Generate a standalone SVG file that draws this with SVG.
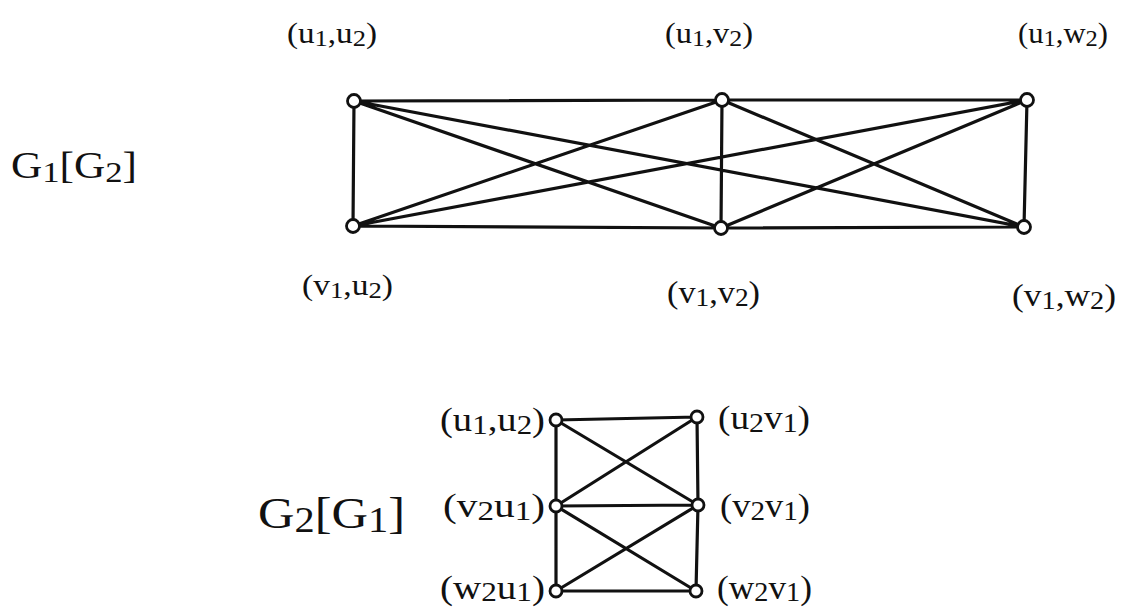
<svg xmlns="http://www.w3.org/2000/svg" width="1121" height="609" viewBox="0 0 1121 609">
<style>
.e{stroke:#111;stroke-width:3.2;fill:none;stroke-linecap:round;stroke-linejoin:round}
.n{fill:#fff;stroke:#111;stroke-width:2.8}
.t{font-family:"Liberation Serif","Times New Roman",serif;fill:#111}
.s{font-size:80%}
</style>
<rect width="1121" height="609" fill="#fff"/>
<g id="connectors">
<path class="e" d="M354,101 L722,100 L1027,100 M353,226 L721,228 L1024,227 M354,101 L353,226 M722,100 L721,228 M1027,100 L1024,227 M354,101 L721,228 M354,101 L1024,227 M353,226 L722,100 M353,226 L1027,100 M722,100 L1024,227 M721,228 L1027,100"/>
<path class="e" d="M556,420 L697,417 M556,506 L698,505 M556,591 L696,591 M556,420 L556,506 L556,591 M697,417 L698,505 L696,591 M556,420 L698,505 M697,417 L556,506 M556,506 L696,591 M698,505 L556,591"/>
</g>
<g id="n-u1u2"><circle class="n" cx="354" cy="101" r="6.5"/><text class="t" x="287" y="43" font-size="30" textLength="90" lengthAdjust="spacingAndGlyphs">(u<tspan class="s" dy="3">1</tspan><tspan dy="-3">,u</tspan><tspan class="s" dy="3">2</tspan><tspan dy="-3">)</tspan></text></g>
<g id="n-u1v2"><circle class="n" cx="722" cy="100" r="6.5"/><text class="t" x="665" y="43" font-size="30" textLength="88" lengthAdjust="spacingAndGlyphs">(u<tspan class="s" dy="3">1</tspan><tspan dy="-3">,v</tspan><tspan class="s" dy="3">2</tspan><tspan dy="-3">)</tspan></text></g>
<g id="n-u1w2"><circle class="n" cx="1027" cy="100" r="6.5"/><text class="t" x="1018" y="43" font-size="30" textLength="90" lengthAdjust="spacingAndGlyphs">(u<tspan class="s" dy="3">1</tspan><tspan dy="-3">,w</tspan><tspan class="s" dy="3">2</tspan><tspan dy="-3">)</tspan></text></g>
<g id="n-v1u2"><circle class="n" cx="353" cy="226" r="6.5"/><text class="t" x="302" y="295" font-size="30" textLength="91" lengthAdjust="spacingAndGlyphs">(v<tspan class="s" dy="3">1</tspan><tspan dy="-3">,u</tspan><tspan class="s" dy="3">2</tspan><tspan dy="-3">)</tspan></text></g>
<g id="n-v1v2"><circle class="n" cx="721" cy="228" r="6.5"/><text class="t" x="667" y="303" font-size="31" textLength="93" lengthAdjust="spacingAndGlyphs">(v<tspan class="s" dy="3">1</tspan><tspan dy="-3">,v</tspan><tspan class="s" dy="3">2</tspan><tspan dy="-3">)</tspan></text></g>
<g id="n-v1w2"><circle class="n" cx="1024" cy="227" r="6.5"/><text class="t" x="1012" y="306" font-size="31" textLength="104" lengthAdjust="spacingAndGlyphs">(v<tspan class="s" dy="3">1</tspan><tspan dy="-3">,w</tspan><tspan class="s" dy="3">2</tspan><tspan dy="-3">)</tspan></text></g>
<text class="t" x="11" y="178" font-size="38" textLength="126" lengthAdjust="spacingAndGlyphs">G<tspan class="s" dy="4">1</tspan><tspan dy="-4">[G</tspan><tspan class="s" dy="4">2</tspan><tspan dy="-4">]</tspan></text>
<g id="m-u1u2"><circle class="n" cx="556" cy="420" r="6"/><text class="t" x="440" y="431" font-size="33" textLength="105" lengthAdjust="spacingAndGlyphs">(u<tspan class="s" dy="3">1</tspan><tspan dy="-3">,u</tspan><tspan class="s" dy="3">2</tspan><tspan dy="-3">)</tspan></text></g>
<g id="m-u2v1"><circle class="n" cx="697" cy="417" r="6"/><text class="t" x="718" y="429" font-size="33" textLength="92" lengthAdjust="spacingAndGlyphs">(u<tspan class="s" dy="3">2</tspan><tspan dy="-3">v</tspan><tspan class="s" dy="3">1</tspan><tspan dy="-3">)</tspan></text></g>
<g id="m-v2u1"><circle class="n" cx="556" cy="506" r="6"/><text class="t" x="443" y="517" font-size="33" textLength="102" lengthAdjust="spacingAndGlyphs">(v<tspan class="s" dy="3">2</tspan><tspan dy="-3">u</tspan><tspan class="s" dy="3">1</tspan><tspan dy="-3">)</tspan></text></g>
<g id="m-v2v1"><circle class="n" cx="698" cy="505" r="6"/><text class="t" x="720" y="517" font-size="33" textLength="90" lengthAdjust="spacingAndGlyphs">(v<tspan class="s" dy="3">2</tspan><tspan dy="-3">v</tspan><tspan class="s" dy="3">1</tspan><tspan dy="-3">)</tspan></text></g>
<g id="m-w2u1"><circle class="n" cx="556" cy="591" r="6"/><text class="t" x="440" y="599" font-size="33" textLength="105" lengthAdjust="spacingAndGlyphs">(w<tspan class="s" dy="2">2</tspan><tspan dy="-2">u</tspan><tspan class="s" dy="2">1</tspan><tspan dy="-2">)</tspan></text></g>
<g id="m-w2v1"><circle class="n" cx="696" cy="591" r="6"/><text class="t" x="717" y="599" font-size="33" textLength="95" lengthAdjust="spacingAndGlyphs">(w<tspan class="s" dy="2">2</tspan><tspan dy="-2">v</tspan><tspan class="s" dy="2">1</tspan><tspan dy="-2">)</tspan></text></g>
<text class="t" x="258" y="528" font-size="44" textLength="147" lengthAdjust="spacingAndGlyphs">G<tspan class="s" dy="4">2</tspan><tspan dy="-4">[G</tspan><tspan class="s" dy="4">1</tspan><tspan dy="-4">]</tspan></text>
</svg>
